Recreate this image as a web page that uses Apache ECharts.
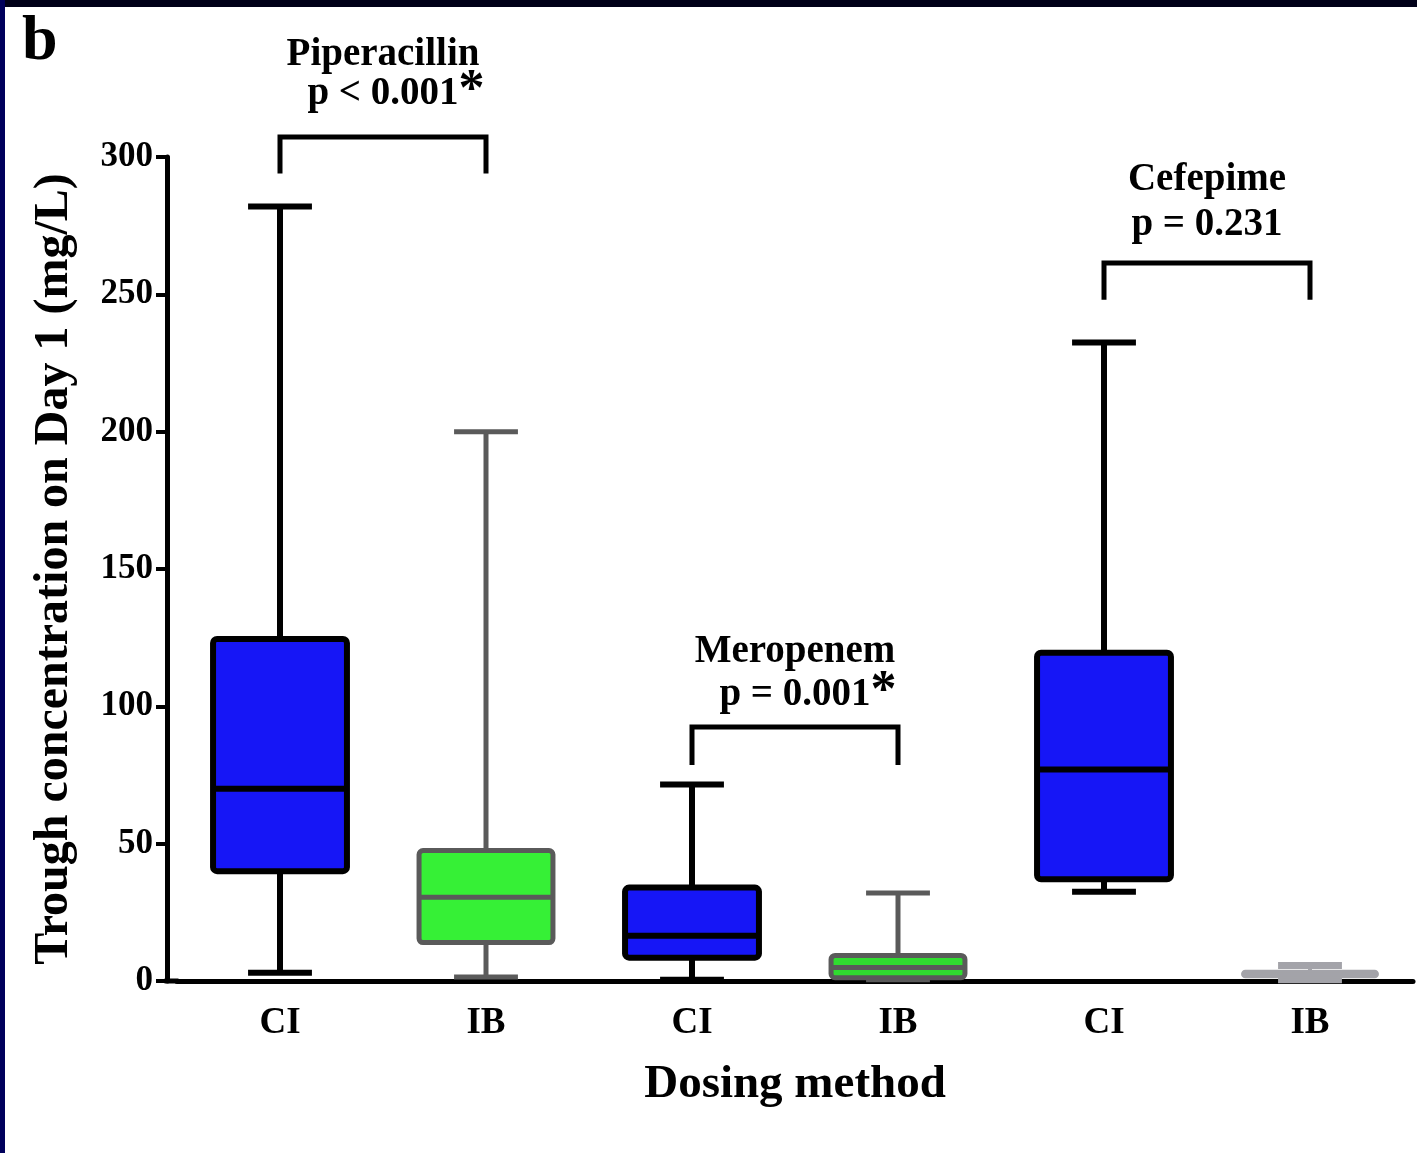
<!DOCTYPE html>
<html>
<head>
<meta charset="utf-8">
<script src="https://cdn.jsdelivr.net/npm/echarts@6/dist/echarts.min.js"></script>
<style>
  html, body { margin: 0; padding: 0; background: #ffffff; }
  #chart { width: 1417px; height: 1153px; }
</style>
</head>
<body>
<div id="chart"></div>
<script>
// Dosing method per box (CI = continuous infusion, IB = intermittent bolus)
const categories = ['CI', 'IB', 'CI', 'IB', 'CI', 'IB'];

// Five-number summaries of day-1 trough concentration, mg/L: [min, Q1, median, Q3, max]
const piperacillinCI = [3, 40, 70, 124.5, 282];
const piperacillinIB = [1.5, 14, 30.5, 47.5, 200];
const meropenemCI = [0.5, 8.5, 16.5, 34, 71.5];
const meropenemIB = [0.5, 1.2, 4.9, 9.3, 32];
const cefepimeCI = [32.5, 37, 77, 119.5, 232.5];
const cefepimeIB = [0.5, 1.7, 2.5, 3.4, 5.6];

// Y axis range and tick step
const yMin = 0;
const yMax = 300;
const yStep = 50;

// Pairwise comparisons
const drugNames = ['Piperacillin', 'Meropenem', 'Cefepime'];
const pValues = ['p < 0.001', 'p = 0.001', 'p = 0.231'];
const significant = [true, true, false];
// [first category index, second category index, bar level, leg end level] in mg/L
const brackets = [
  [0, 1, 307.3, 294],
  [2, 3, 92.5, 78.6],
  [4, 5, 261.4, 248]
];

// ---- styling ----
const boxFill = ['#1616f6', '#36f036', '#1616f6', '#30dc30', '#1616f6', '#a3a3a9'];
const boxEdge = ['#000000', '#5a5a5a', '#000000', '#5a5a5a', '#000000', '#a3a3a9'];
const edgeWidth = [6, 5, 6, 5, 6, 4];
const capWidth = [6, 5, 6, 5, 6, 7];
const nameLift = [82, 75, 83];   // px above the bracket bar
const pLift = [43, 32, 38];
const SERIF = '"Liberation Serif", "Times New Roman", serif';

const summaries = [piperacillinCI, piperacillinIB, meropenemCI, meropenemIB, cefepimeCI, cefepimeIB];
const boxData = summaries.map((s, i) => [i].concat(s));

function renderBox(params, api) {
  const i = api.value(0);
  const cx = api.coord([i, api.value(1)])[0];
  const yLo = api.coord([i, api.value(1)])[1];
  const yQ1 = api.coord([i, api.value(2)])[1];
  const yMed = api.coord([i, api.value(3)])[1];
  const yQ3 = api.coord([i, api.value(4)])[1];
  const yHi = api.coord([i, api.value(5)])[1];
  const band = api.size([1, 0])[0];
  const bw = band * 0.65;
  const cw = band * 0.31;
  const k = params.dataIndex;
  const stroke = boxEdge[k];
  const lw = edgeWidth[k];
  const lineStyle = { stroke: stroke, lineWidth: lw };
  const capStyle = { stroke: stroke, lineWidth: capWidth[k] };
  return {
    type: 'group',
    children: [
      { type: 'line', shape: { x1: cx, y1: yQ3, x2: cx, y2: yHi }, style: lineStyle },
      { type: 'line', shape: { x1: cx, y1: yQ1, x2: cx, y2: yLo }, style: lineStyle },
      { type: 'line', shape: { x1: cx - cw / 2, y1: yHi, x2: cx + cw / 2, y2: yHi }, style: capStyle },
      { type: 'line', shape: { x1: cx - cw / 2, y1: yLo, x2: cx + cw / 2, y2: yLo }, style: capStyle },
      {
        type: 'rect',
        shape: { x: cx - bw / 2, y: yQ3, width: bw, height: yQ1 - yQ3, r: 4 },
        style: { fill: boxFill[k], stroke: stroke, lineWidth: lw, lineJoin: 'round' }
      },
      { type: 'line', shape: { x1: cx - bw / 2, y1: yMed, x2: cx + bw / 2, y2: yMed }, style: lineStyle }
    ]
  };
}

function renderBracket(params, api) {
  const k = params.dataIndex;
  const a = api.coord([api.value(0), api.value(2)]);
  const b = api.coord([api.value(1), api.value(2)]);
  const legY = api.coord([api.value(0), api.value(3)])[1];
  const mid = (a[0] + b[0]) / 2;
  const pText = significant[k]
    ? '{pad|*}{t|' + pValues[k] + '}{s|*}'
    : '{t|' + pValues[k] + '}';
  return {
    type: 'group',
    children: [
      {
        type: 'polyline',
        shape: { points: [[a[0], legY], [a[0], a[1]], [b[0], b[1]], [b[0], legY]] },
        style: { stroke: '#000000', lineWidth: 5, fill: null, lineJoin: 'miter' }
      },
      {
        type: 'text',
        x: mid,
        y: a[1] - nameLift[k],
        style: {
          text: drugNames[k],
          fill: '#000000',
          fontFamily: SERIF,
          fontWeight: 'bold',
          fontSize: 39,
          align: 'center',
          verticalAlign: 'middle'
        }
      },
      {
        type: 'text',
        x: mid,
        y: a[1] - pLift[k],
        style: {
          text: pText,
          align: 'center',
          verticalAlign: 'middle',
          rich: {
            t: { fill: '#000000', fontFamily: SERIF, fontWeight: 'bold', fontSize: 39 },
            s: { fill: '#000000', fontFamily: SERIF, fontWeight: 'bold', fontSize: 52, padding: [0, 0, 4, 0] },
            pad: { fill: 'rgba(0,0,0,0)', fontFamily: SERIF, fontWeight: 'bold', fontSize: 52, padding: [0, 0, 4, 0] }
          }
        }
      }
    ]
  };
}

const chart = echarts.init(document.getElementById('chart'), null, { renderer: 'canvas' });

chart.setOption({
  backgroundColor: '#ffffff',
  animation: false,
  graphic: [
    { type: 'rect', left: 0, top: 0, shape: { width: 1417, height: 7 }, style: { fill: '#000018' }, z: 10 },
    { type: 'rect', left: 0, top: 0, shape: { width: 5, height: 1153 }, style: { fill: '#00005c' }, z: 10 },
    {
      type: 'text', left: 22, top: 10,
      style: { text: 'b', fill: '#000000', fontFamily: SERIF, fontWeight: 'bold', fontSize: 64 }
    },
    // joins the x axis line to the offset y axis
    { type: 'rect', left: 164.5, top: 978.5, shape: { width: 14, height: 5 }, style: { fill: '#000000' } }
  ],
  grid: { left: 177, right: 4, top: 157, bottom: 172, containLabel: false },
  xAxis: {
    type: 'category',
    data: categories,
    boundaryGap: true,
    name: 'Dosing method',
    nameLocation: 'middle',
    nameGap: 80,
    nameTextStyle: { fontFamily: SERIF, fontWeight: 'bold', fontSize: 47, color: '#000000' },
    axisLine: { lineStyle: { color: '#000000', width: 5 } },
    axisTick: { alignWithLabel: true, length: 12, lineStyle: { color: '#000000', width: 4 } },
    axisLabel: { margin: 24, fontFamily: SERIF, fontWeight: 'bold', fontSize: 37, color: '#000000' },
    splitLine: { show: false }
  },
  yAxis: {
    type: 'value',
    min: yMin,
    max: yMax,
    interval: yStep,
    offset: 10,
    name: 'Trough concentration on Day 1 (mg/L)',
    nameLocation: 'middle',
    nameGap: 88,
    nameRotate: 90,
    nameTextStyle: { fontFamily: SERIF, fontWeight: 'bold', fontSize: 48, color: '#000000' },
    axisLine: { show: true, lineStyle: { color: '#000000', width: 5 } },
    axisTick: { show: true, length: 11, lineStyle: { color: '#000000', width: 4 } },
    axisLabel: { margin: 14, fontFamily: SERIF, fontWeight: 'bold', fontSize: 35, color: '#000000' },
    splitLine: { show: false }
  },
  series: [
    {
      type: 'custom',
      name: 'boxes',
      renderItem: renderBox,
      encode: { x: 0, y: [1, 2, 3, 4, 5] },
      data: boxData,
      clip: false,
      z: 3
    },
    {
      type: 'custom',
      name: 'comparisons',
      renderItem: renderBracket,
      encode: { x: [0, 1], y: [2, 3] },
      data: brackets,
      clip: false,
      z: 4
    }
  ]
});
</script>
</body>
</html>
